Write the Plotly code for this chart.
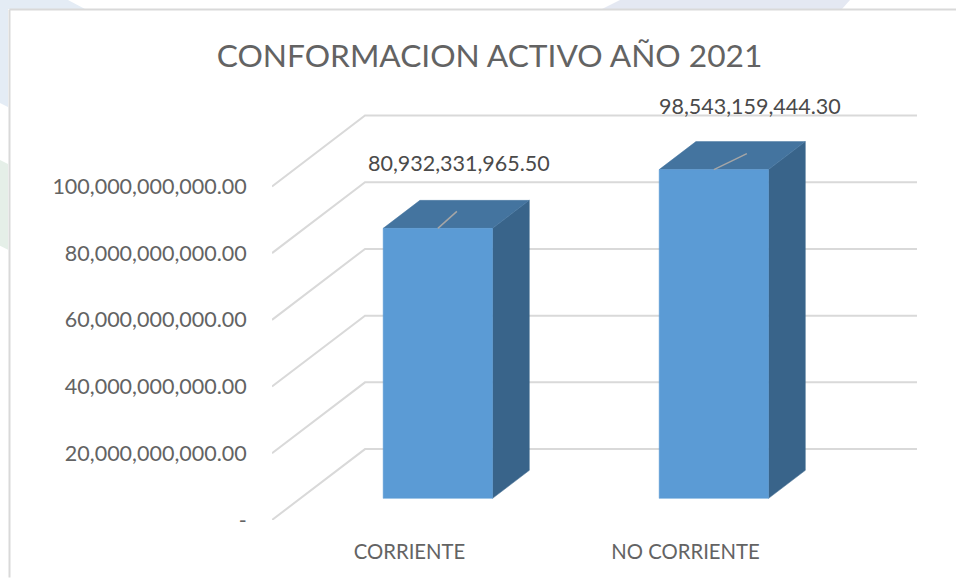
import plotly.graph_objects as go

# ---- data ----
categories = ["CORRIENTE", "NO CORRIENTE"]
values = [80932331965.50, 98543159444.30]
value_labels = ["80,932,331,965.50", "98,543,159,444.30"]
y_ticks = [0, 20e9, 40e9, 60e9, 80e9, 100e9]
y_tick_labels = ["-", "20,000,000,000.00", "40,000,000,000.00", "60,000,000,000.00",
                 "80,000,000,000.00", "100,000,000,000.00"]
title_text = "CONFORMACION ACTIVO AÑO 2021"

# ---- layout constants (pixels in the 956x578 page) ----
W, H = 956, 578
PLOT_L, PLOT_T, PLOT_B = 272, 90, 520.5
PX_PER_CAT = 276
CAT0_PX = 409.5
PX_PER_VAL = 66.8 / 20e9
WALL_DX, WALL_DY = 93, 71       # oblique depth of the 3-D box
BAR_HALF = 54.7 / PX_PER_CAT
BAR_D0, BAR_D1 = 0.305, 0.70
WALL_RIGHT_PX = 917
GRID = "#d9d9d9"
FRONT, SIDE, TOP = "#5b9bd5", "#39648a", "#44749f"
LABEL_OFFSET = [(21, 63), (36, 61)]
LEADER_END = [(19, 17), (33, 16)]


def proj(cat, val, depth=0.0):
    return (cat + depth * WALL_DX / PX_PER_CAT, val + depth * WALL_DY / PX_PER_VAL)


def poly(points, color):
    xs, ys = zip(*[proj(*p) for p in points])
    return go.Scatter(x=list(xs) + [xs[0]], y=list(ys) + [ys[0]], mode="lines", fill="toself",
                      fillcolor=color, line=dict(color=color, width=0.5), hoverinfo="skip",
                      showlegend=False)


fig = go.Figure()

# walls' gridlines
wall_right = (WALL_RIGHT_PX - WALL_DX - CAT0_PX) / PX_PER_CAT
wall_left = (PLOT_L - CAT0_PX) / PX_PER_CAT
for v in y_ticks:
    xs, ys = zip(proj(wall_left, v, 0), proj(wall_left, v, 1), proj(wall_right, v, 1))
    fig.add_trace(go.Scatter(x=xs, y=ys, mode="lines", line=dict(color=GRID, width=2),
                             hoverinfo="skip", showlegend=False))

# bars
for i, v in enumerate(values):
    l, r = i - BAR_HALF, i + BAR_HALF
    fig.add_trace(poly([(r, 0, BAR_D0), (r, 0, BAR_D1), (r, v, BAR_D1), (r, v, BAR_D0)], SIDE))
    fig.add_trace(poly([(l, v, BAR_D0), (r, v, BAR_D0), (r, v, BAR_D1), (l, v, BAR_D1)], TOP))
    fig.add_trace(poly([(l, 0, BAR_D0), (r, 0, BAR_D0), (r, v, BAR_D0), (l, v, BAR_D0)], FRONT))

# leader lines and data labels
for i, v in enumerate(values):
    x0, y0 = proj(i, v, BAR_D0)
    ex, ey = LEADER_END[i]
    fig.add_trace(go.Scatter(x=[x0, x0 + ex / PX_PER_CAT], y=[y0, y0 + ey / PX_PER_VAL], mode="lines",
                             line=dict(color="#a6a6a6", width=1.5), hoverinfo="skip", showlegend=False))
    ox, oy = LABEL_OFFSET[i]
    fig.add_trace(go.Scatter(x=[x0 + ox / PX_PER_CAT], y=[y0 + oy / PX_PER_VAL], mode="text",
                             text=[value_labels[i]], textposition="middle center",
                             textfont=dict(family="Lato", size=21.5, color="#4a4a4a"),
                             hoverinfo="skip", showlegend=False))


def px(x):
    return (x - PLOT_L) / (W - PLOT_L)


def py(y):
    return 1 - (y - PLOT_T) / (PLOT_B - PLOT_T)


def deco(points, color):
    path = "M " + " L ".join(f"{px(a):.5f},{py(b):.5f}" for a, b in points) + " Z"
    return dict(type="path", path=path, xref="paper", yref="paper", fillcolor=color,
                line=dict(width=0), layer="below")


shapes = [
    deco([(0, 0), (68, 0), (85, 9), (8, 9), (8, 107), (0, 103)], "#e4ecf5"),
    deco([(0, 160), (8, 164), (8, 250), (0, 246)], "#e5efe8"),
    deco([(620, 0), (850, 0), (842, 9), (602, 9)], "#e4e8f2"),
    dict(type="line", xref="paper", yref="paper", x0=px(9.5), x1=px(9.5), y0=py(9.5), y1=py(H),
         line=dict(color=GRID, width=2), layer="below"),
    dict(type="line", xref="paper", yref="paper", x0=px(9.5), x1=px(W), y0=py(9.5), y1=py(9.5),
         line=dict(color=GRID, width=2), layer="below"),
]

fig.update_layout(
    width=W, height=H, paper_bgcolor="white", plot_bgcolor="rgba(0,0,0,0)",
    margin=dict(l=PLOT_L, r=0, t=PLOT_T, b=H - PLOT_B, autoexpand=False),
    showlegend=False, shapes=shapes,
    title=dict(text=title_text, x=489.5 / W, xanchor="center", xref="container",
               y=1 - 56 / H, yanchor="middle", yref="container",
               font=dict(family="Lato", size=31.7, color="#636363")),
    xaxis=dict(range=[wall_left, (W - CAT0_PX) / PX_PER_CAT], tickvals=[0, 1], ticktext=categories,
               showgrid=False, zeroline=False, showline=False, ticks="outside", ticklen=14,
               tickcolor="rgba(0,0,0,0)", tickfont=dict(family="Lato", size=20.3, color="#636363")),
    yaxis=dict(range=[0, (PLOT_B - PLOT_T) / PX_PER_VAL], tickvals=y_ticks, ticktext=y_tick_labels,
               showgrid=False, zeroline=False, showline=False, ticks="outside", ticklen=20,
               tickcolor="rgba(0,0,0,0)", tickfont=dict(family="Lato", size=21.5, color="#636363")),
)

# the page's default body margin would shift the figure away from the corner
fig.write_html("out.html", config=dict(displayModeBar=False),
               post_script="document.body.style.margin='0';document.documentElement.style.overflow='hidden';")
